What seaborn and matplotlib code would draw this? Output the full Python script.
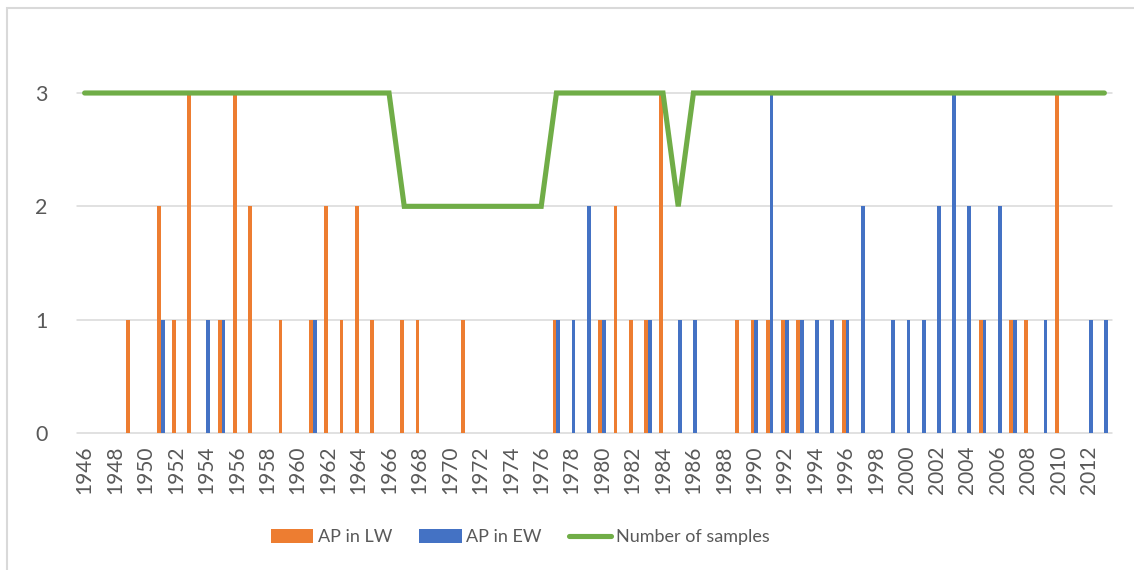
import numpy as np
import pandas as pd
import matplotlib
matplotlib.use("Agg")
import matplotlib.pyplot as plt
from matplotlib.patches import Patch, Rectangle
from matplotlib.lines import Line2D
import seaborn as sns

years = list(range(1946, 2014))
ap_lw = [0, 0, 0, 1, 0, 2, 1, 3, 0, 1,
         3, 2, 0, 1, 0, 1, 2, 1, 2, 1,
         0, 1, 1, 0, 0, 1, 0, 0, 0, 0,
         0, 1, 0, 0, 1, 2, 1, 1, 3, 0,
         0, 0, 0, 1, 1, 1, 1, 1, 0, 0,
         1, 0, 0, 0, 0, 0, 0, 0, 0, 1,
         0, 1, 1, 0, 3, 0, 0, 0]
ap_ew = [0, 0, 0, 0, 0, 1, 0, 0, 1, 1,
         0, 0, 0, 0, 0, 1, 0, 0, 0, 0,
         0, 0, 0, 0, 0, 0, 0, 0, 0, 0,
         0, 1, 1, 2, 1, 0, 0, 1, 0, 1,
         1, 0, 0, 0, 1, 3, 1, 1, 1, 1,
         1, 2, 0, 1, 1, 1, 2, 3, 2, 1,
         2, 1, 0, 1, 0, 0, 1, 1]
n_samples = [3] * 21 + [2] * 10 + [3] * 8 + [2] + [3] * 28
series_names = ["AP in LW", "AP in EW", "Number of samples"]
y_ticks = [0, 1, 2, 3]

ORANGE = "#ED7D31"
BLUE = "#4472C4"
GREEN = "#70AD47"
GRID = "#D9D9D9"
TXT = "#595959"

sns.set_theme(style="white")
plt.rcParams["font.family"] = ["Lato", "DejaVu Sans"]

W, H = 1134, 570
fig = plt.figure(figsize=(W / 100, H / 100), dpi=100)
ax = fig.add_axes([77 / W, 1 - 433 / H, (1112 - 77) / W, (433 - 93) / H])

ylabels = [str(y) for y in years]
df = pd.DataFrame({
    "year": ylabels * 2,
    "value": ap_lw + ap_ew,
    "series": [series_names[0]] * len(years) + [series_names[1]] * len(years),
})
sns.barplot(data=df, x="year", y="value", hue="series", order=ylabels,
            hue_order=series_names[:2], palette=[ORANGE, BLUE],
            width=0.5, saturation=1, linewidth=0, ax=ax, legend=False, zorder=2)

sns.lineplot(x=np.arange(len(years)), y=n_samples, color=GREEN, linewidth=3.7,
             ax=ax, zorder=3, clip_on=False, solid_capstyle="round",
             solid_joinstyle="miter")

ax.set_xlim(-0.5, len(years) - 0.5)
ax.set_ylim(0, 3)
ax.set_yticks(y_ticks)
ax.set_yticklabels([str(t) for t in y_ticks], fontsize=15.5, color=TXT)
ax.set_xticks(np.arange(0, len(years), 2))
ax.set_xticklabels(ylabels[::2], rotation=90, fontsize=15, color=TXT)
ax.tick_params(axis="both", length=0)
ax.tick_params(axis="y", pad=21)
ax.tick_params(axis="x", pad=9)
ax.set_xlabel("")
ax.set_ylabel("")
for s in ax.spines.values():
    s.set_visible(False)
for t in y_ticks:
    ax.axhline(t, color=GRID, linewidth=1.1, zorder=0.5, clip_on=False)

# chart border
fig.patches.append(Rectangle((7 / W, -0.1), 1.2, 1 - 8 / H + 0.1,
                             transform=fig.transFigure, fill=False,
                             edgecolor=GRID, linewidth=1.5))

handles = [Patch(facecolor=ORANGE, edgecolor="none"),
           Patch(facecolor=BLUE, edgecolor="none"),
           Line2D([0], [0], color=GREEN, linewidth=3.7, solid_capstyle="round")]
leg = fig.legend(handles, series_names, loc="center", ncol=3,
                 bbox_to_anchor=(520 / W, 1 - 537 / H), frameon=False,
                 fontsize=13, handlelength=2.35, handleheight=0.8,
                 handletextpad=0.25, columnspacing=1.5)
for t in leg.get_texts():
    t.set_color(TXT)

fig.savefig("out.png", dpi=100)
